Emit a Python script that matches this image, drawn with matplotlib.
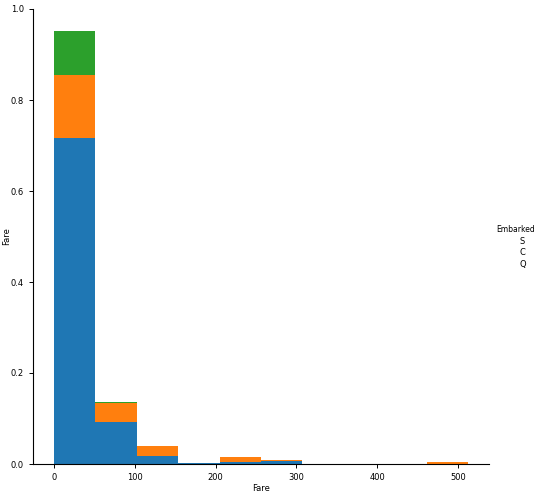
import numpy as np
import matplotlib
matplotlib.use('Agg')
import matplotlib.pyplot as plt
from matplotlib.patches import Patch

# bin edges of Fare (10 bins, 0 .. 512.33)
bin_edges = np.linspace(0, 512.3292, 11)

embarked = ['S', 'C', 'Q']
colors = ['#1f77b4', '#ff7f0e', '#2ca02c']

# bar heights per group (stacked S -> C -> Q)
s_vals = [0.716, 0.092, 0.018, 0.003, 0.005, 0.006, 0.0, 0.0, 0.0, 0.0]
c_vals = [0.138, 0.041, 0.022, 0.0, 0.010, 0.002, 0.0, 0.0, 0.0, 0.005]
q_vals = [0.098, 0.003, 0.0, 0.0, 0.0, 0.0, 0.0, 0.0, 0.0, 0.0]

plt.rcParams['font.size'] = 6
fig = plt.figure(figsize=(5.4, 4.94), dpi=100)
ax = fig.add_axes([33/540, 1 - 464/494, (489-33)/540, (464-9)/494])

lefts = bin_edges[:-1]
widths = np.diff(bin_edges)
bottom = np.zeros(10)
for name, vals, col in zip(embarked, [s_vals, c_vals, q_vals], colors):
    ax.bar(lefts, vals, width=widths, bottom=bottom, align='edge',
           color=col, linewidth=0, label=name)
    bottom = bottom + np.array(vals)

ax.set_xlim(-25.6, 537.9)
ax.set_ylim(0, 1.0)
ax.set_xticks([0, 100, 200, 300, 400, 500])
ax.set_yticks([0.0, 0.2, 0.4, 0.6, 0.8, 1.0])
ax.set_xlabel('Fare', labelpad=1.5)
ax.set_ylabel('Fare')
ax.yaxis.set_label_coords(-0.048, 0.5)
ax.spines['top'].set_visible(False)
ax.spines['right'].set_visible(False)
ax.tick_params(length=3, width=0.7, labelsize=6)
for sp in ['left', 'bottom']:
    ax.spines[sp].set_linewidth(0.8)

handles = [Patch(visible=False) for _ in embarked]
fig.legend(handles, embarked, title='Embarked', loc='center left',
           bbox_to_anchor=(0.905, 0.5), frameon=False, fontsize=6,
           title_fontsize=5.5, handlelength=1.1, handletextpad=0.6,
           labelspacing=0.3)

fig.savefig('out.png', dpi=100)
